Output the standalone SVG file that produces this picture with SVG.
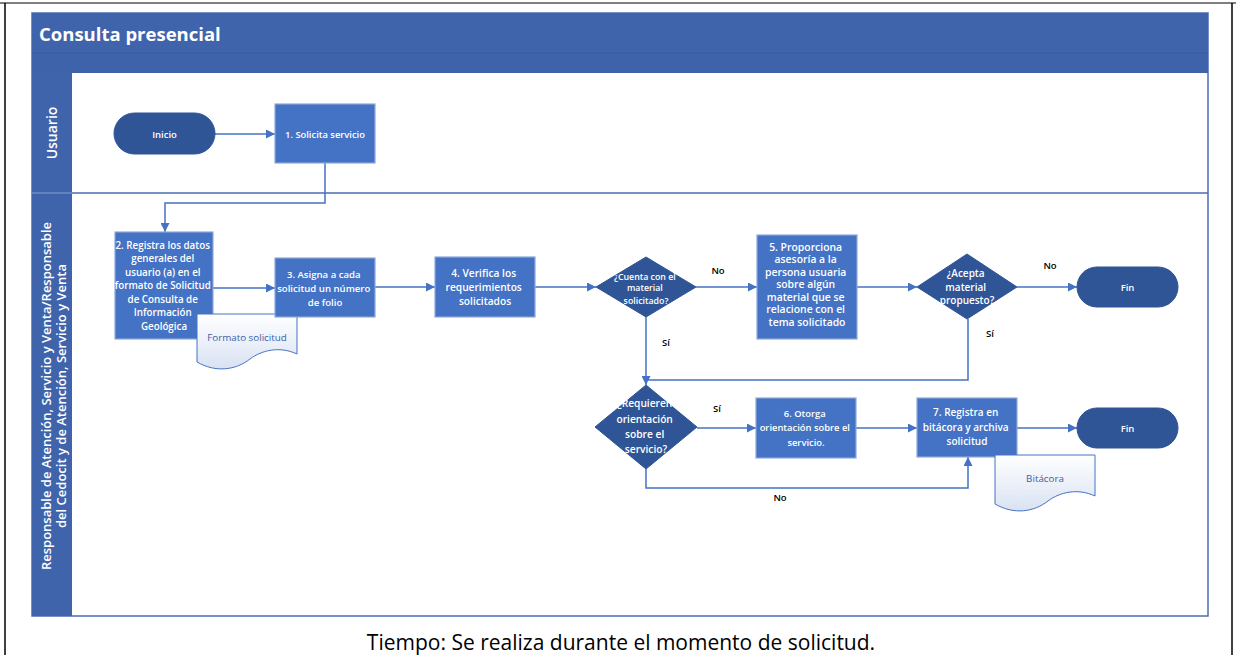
<svg xmlns="http://www.w3.org/2000/svg" width="1236" height="655" viewBox="0 0 1236 655">
<style>
.proc{fill:#4472C4;stroke:#8EA9DB;stroke-width:1.2}
.term{fill:#2F5597;stroke:#2F5597;stroke-width:1}
.dec{fill:#2F5597;stroke:#2F5597;stroke-width:1}
.doc{fill:url(#docg);stroke:#4472C4;stroke-width:1}
.wt{font-family:"Open Sans","Liberation Sans",sans-serif;font-weight:600;fill:#fff;text-anchor:middle}
.lbl{font-family:"Open Sans","Liberation Sans",sans-serif;font-weight:600;fill:#000;font-size:9.5px;text-anchor:middle}
.dt{font-family:"Open Sans","Liberation Sans",sans-serif;fill:#3B5EA6;font-size:9.8px;text-anchor:middle}
.lane{font-family:"Open Sans","Liberation Sans",sans-serif;fill:#fff;font-weight:600;text-anchor:middle}
.con{fill:none;stroke:#4472C4;stroke-width:1.5}
</style>
<defs>
<linearGradient id="docg" x1="0" y1="0" x2="0" y2="1">
<stop offset="0" stop-color="#ffffff"/>
<stop offset="1" stop-color="#D9E2F3"/>
</linearGradient>
<marker id="arr" viewBox="0 0 10 10" refX="10" refY="5" markerWidth="6" markerHeight="6" markerUnits="strokeWidth" orient="auto">
<path d="M0,0 L10,5 L0,10 Z" fill="#4472C4"/>
</marker>
</defs>
<rect x="0" y="0" width="1236" height="655" fill="#fff"/>
<line x1="0" y1="3" x2="1236" y2="3" stroke="#7F7F7F" stroke-width="2"/>
<line x1="5" y1="3" x2="5" y2="655" stroke="#000" stroke-width="1.5"/>
<line x1="1232" y1="3" x2="1232" y2="655" stroke="#000" stroke-width="1.5"/>
<g id="pool">
<rect x="32" y="13" width="1176" height="603" fill="#fff" stroke="#4A6DB0" stroke-width="1.5"/>
<rect x="32" y="13" width="1176" height="40" fill="#4064AC"/>
<rect x="32" y="53" width="1176" height="20" fill="#3F63AA"/>
<line x1="32" y1="53" x2="1208" y2="53" stroke="#3A5C9E" stroke-width="1.2"/>
<text x="39" y="41" font-family="Open Sans,Liberation Sans,sans-serif" font-weight="700" font-size="18.5" fill="#fff">Consulta presencial</text>
<rect x="32" y="73" width="40" height="543" fill="#4064AC"/>
<line x1="32" y1="193" x2="1208" y2="193" stroke="#4A6DB0" stroke-width="1.5"/>
<line x1="32" y1="193" x2="72" y2="193" stroke="#7F9BD0" stroke-width="1"/>
<text class="lane" font-size="14" transform="translate(57,133) rotate(-90)">Usuario</text>
<text class="lane" font-size="13" transform="translate(51,396) rotate(-90)">Responsable de Atención, Servicio y Venta/Responsable</text>
<text class="lane" font-size="13" transform="translate(66,396) rotate(-90)">del Cedocit y de Atención, Servicio y Venta</text>
</g>
<g id="connectors">
<path class="con" marker-end="url(#arr)" d="M215,134 H275"/>
<path class="con" marker-end="url(#arr)" d="M325,163 V203 H165 V232"/>
<path class="con" marker-end="url(#arr)" d="M213,288 H275"/>
<path class="con" marker-end="url(#arr)" d="M375,287 H435"/>
<path class="con" marker-end="url(#arr)" d="M535,287 H596"/>
<path class="con" marker-end="url(#arr)" d="M696,287 H757"/>
<path class="con" marker-end="url(#arr)" d="M857,287 H917"/>
<path class="con" marker-end="url(#arr)" d="M1017,287 H1077"/>
<path class="con" marker-end="url(#arr)" d="M646,317 V385"/>
<path class="con" d="M968,319 V380 H646"/>
<path class="con" marker-end="url(#arr)" d="M697,428 H756"/>
<path class="con" marker-end="url(#arr)" d="M856,428 H917"/>
<path class="con" marker-end="url(#arr)" d="M1017,428 H1077"/>
<path class="con" marker-end="url(#arr)" d="M646,468 V488 H968 V457"/>
<text class="lbl" x="718" y="274">No</text>
<text class="lbl" x="666" y="346">Sí</text>
<text class="lbl" x="1050" y="269">No</text>
<text class="lbl" x="990" y="337">Sí</text>
<text class="lbl" x="717" y="412">Sí</text>
<text class="lbl" x="780" y="501">No</text>
</g>
<g id="inicio">
<rect class="term" x="114" y="113" width="101" height="41" rx="20.5"/>
<text class="wt" font-size="9.5" x="164.5" y="137.5">Inicio</text>
</g>
<g id="n1">
<rect class="proc" x="275" y="104" width="100" height="59"/>
<text class="wt" font-size="9.4" x="325" y="137.5">1. Solicita servicio</text>
</g>
<g id="n2">
<rect class="proc" x="115" y="232" width="98" height="107"/>
<text class="wt" font-size="9.8">
<tspan x="164" y="248.5">2. Registra los datos</tspan>
<tspan x="164" y="262">generales del</tspan>
<tspan x="164" y="275.5">usuario (a) en el</tspan>
<tspan x="164" y="289">formato de Solicitud</tspan>
<tspan x="164" y="302.5">de Consulta de</tspan>
<tspan x="164" y="316">Información</tspan>
<tspan x="164" y="329.5">Geológica</tspan>
</text>
</g>
<g id="doc1">
<path class="doc" d="M197,314 H297 V354 C280,346 262,350 250,359 C236,370 216,373 197,362 Z"/>
<text class="dt" x="247" y="341">Formato solicitud</text>
</g>
<g id="n3">
<rect class="proc" x="275" y="258" width="100" height="59"/>
<text class="wt" font-size="9.6">
<tspan x="325" y="277.5">3. Asigna a cada</tspan>
<tspan x="325" y="291.5">solicitud un número</tspan>
<tspan x="325" y="305.5">de folio</tspan>
</text>
</g>
<g id="n4">
<rect class="proc" x="435" y="257" width="100" height="60"/>
<text class="wt" font-size="10.2">
<tspan x="485" y="277">4. Verifica los</tspan>
<tspan x="485" y="291">requerimientos</tspan>
<tspan x="485" y="305">solicitados</tspan>
</text>
</g>
<g id="d1">
<polygon class="dec" points="646,257 696,287 646,317 596,287"/>
<text class="wt" font-size="8.8">
<tspan x="646" y="280">¿Cuenta con el</tspan>
<tspan x="646" y="291">material</tspan>
<tspan x="646" y="304">solicitado?</tspan>
</text>
</g>
<g id="n5">
<rect class="proc" x="757" y="235" width="100" height="104"/>
<text class="wt" font-size="10.4">
<tspan x="807" y="250.5">5. Proporciona</tspan>
<tspan x="807" y="263">asesoría a la</tspan>
<tspan x="807" y="275.5">persona usuaria</tspan>
<tspan x="807" y="288">sobre algún</tspan>
<tspan x="807" y="300.5">material que se</tspan>
<tspan x="807" y="313">relacione con el</tspan>
<tspan x="807" y="325.5">tema solicitado</tspan>
</text>
</g>
<g id="d2">
<polygon class="dec" points="967,254 1017,287 967,319 917,287"/>
<text class="wt" font-size="10">
<tspan x="967" y="277">¿Acepta</tspan>
<tspan x="967" y="291">material</tspan>
<tspan x="967" y="304">propuesto?</tspan>
</text>
</g>
<g id="fin1">
<rect class="term" x="1077" y="267" width="101" height="40" rx="20"/>
<text class="wt" font-size="9.5" x="1127.5" y="290.5">Fin</text>
</g>
<g id="d3">
<polygon class="dec" points="646,385 697,427 646,469 595,427"/>
<text class="wt" font-size="10.2">
<tspan x="646" y="407">¿Requieren</tspan>
<tspan x="646" y="422.5">orientación</tspan>
<tspan x="646" y="438">sobre el</tspan>
<tspan x="646" y="453">servicio?</tspan>
</text>
</g>
<g id="n6">
<rect class="proc" x="756" y="398" width="100" height="60"/>
<text class="wt" font-size="9.4">
<tspan x="806" y="416.5">6. Otorga</tspan>
<tspan x="806" y="431">orientación sobre el</tspan>
<tspan x="806" y="445.5">servicio.</tspan>
</text>
</g>
<g id="n7">
<rect class="proc" x="917" y="398" width="100" height="59"/>
<text class="wt" font-size="10">
<tspan x="967" y="416">7. Registra en</tspan>
<tspan x="967" y="430.5">bitácora y archiva</tspan>
<tspan x="967" y="445">solicitud</tspan>
</text>
</g>
<g id="doc2">
<path class="doc" d="M995,455 H1095 V496 C1078,488 1060,492 1048,501 C1034,512 1014,515 995,504 Z"/>
<text class="dt" x="1045" y="482">Bitácora</text>
</g>
<g id="fin2">
<rect class="term" x="1077" y="408" width="101" height="40" rx="20"/>
<text class="wt" font-size="9.5" x="1127.5" y="431.5">Fin</text>
</g>
<text x="621" y="650" font-family="Open Sans,Liberation Sans,sans-serif" font-size="21" fill="#000" text-anchor="middle">Tiempo: Se realiza durante el momento de solicitud.</text>
</svg>
